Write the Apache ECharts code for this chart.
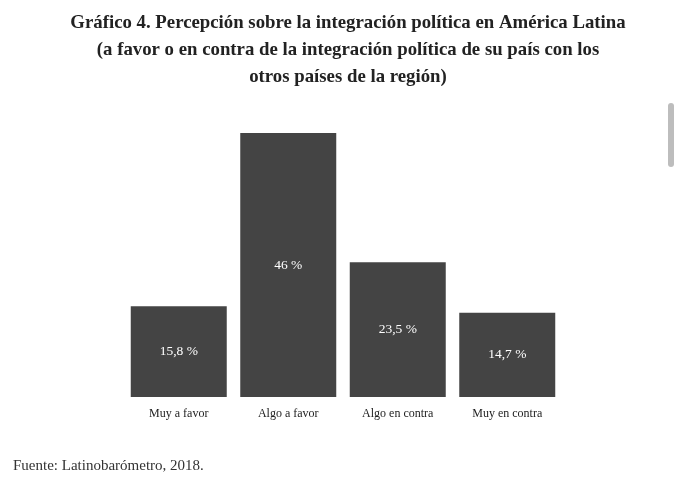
<!DOCTYPE html>
<html lang="es">
<head>
    <meta charset="UTF-8">
    <title>Gráfico 4</title>
    <script src="https://cdn.jsdelivr.net/npm/echarts@6/dist/echarts.min.js"></script>
    <style>
        html, body { margin: 0; padding: 0; background: #fff; }
        #chart { width: 680px; height: 488px; }
    </style>
</head>
<body>
<div id="chart"></div>
<script>
    // datos
    var categorias = ['Muy a favor', 'Algo a favor', 'Algo en contra', 'Muy en contra'];
    var valores = [15.8, 46, 23.5, 14.7];
    var etiquetas = ['15,8 %', '46 %', '23,5 %', '14,7 %'];

    var serif = '"Liberation Serif", "DejaVu Serif", serif';

    var myChart = echarts.init(document.getElementById('chart'));

    var option = {
        backgroundColor: '#ffffff',
        animation: false,
        title: {
            text: 'Gráfico 4. Percepción sobre la integración política en América Latina\n(a favor o en contra de la integración política de su país con los\notros países de la región)',
            left: 343,
            textAlign: 'center',
            top: 5,
            textStyle: {
                fontFamily: serif,
                fontSize: 18.8,
                fontWeight: 'bold',
                color: '#222',
                lineHeight: 27
            }
        },
        grid: {
            left: 124,
            right: 118,
            top: 133,
            bottom: 91
        },
        xAxis: {
            type: 'category',
            data: categorias,
            axisLine: { show: false },
            axisTick: { show: false },
            axisLabel: {
                margin: 11,
                fontFamily: serif,
                fontSize: 12,
                color: '#222'
            }
        },
        yAxis: {
            type: 'value',
            min: 0,
            max: 46,
            show: false
        },
        series: [
            {
                type: 'bar',
                data: valores,
                barWidth: 96,
                itemStyle: { color: '#444444' },
                label: {
                    show: true,
                    position: 'inside',
                    fontFamily: serif,
                    fontSize: 13.5,
                    color: '#ffffff',
                    formatter: function (p) { return etiquetas[p.dataIndex]; }
                }
            }
        ],
        graphic: [
            {
                type: 'text',
                left: 13,
                top: 459,
                style: {
                    text: 'Fuente: Latinobarómetro, 2018.',
                    font: '15px ' + serif,
                    fill: '#333'
                }
            },
            {
                type: 'rect',
                left: 668,
                top: 103,
                shape: { width: 6, height: 64, r: 3 },
                style: { fill: '#bdbdbd' }
            }
        ]
    };

    myChart.setOption(option);
</script>
</body>
</html>
